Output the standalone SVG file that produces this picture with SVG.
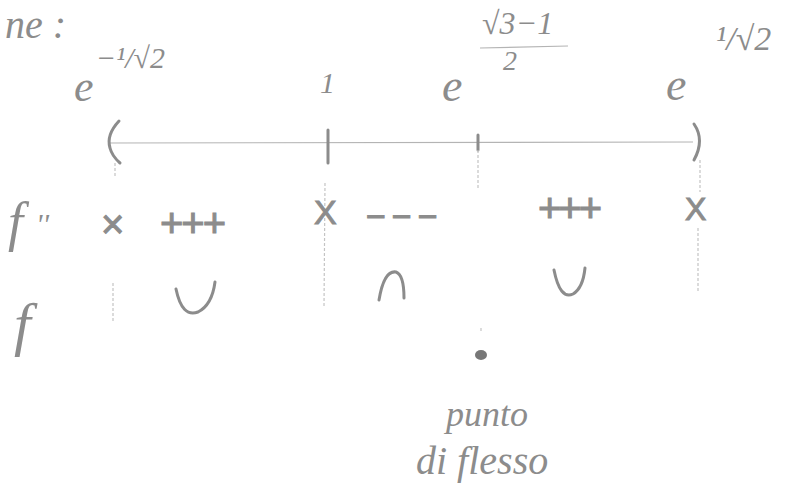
<svg xmlns="http://www.w3.org/2000/svg" width="787" height="490" viewBox="0 0 787 490">
<style>
.t{font-family:"Liberation Serif",serif;font-style:italic;fill:#8c8c8c}
.s{font-family:"Liberation Sans",sans-serif;fill:#8c8c8c;stroke:#8c8c8c;stroke-width:1}
.ln{stroke:#b4b4b4;stroke-width:1.2;fill:none}
.dl{stroke:#c4c4c4;stroke-width:1.2;fill:none;stroke-dasharray:3 2}
.pen{stroke:#8c8c8c;stroke-width:3;fill:none;stroke-linecap:round}
</style>
<rect width="787" height="490" fill="#fff"/>
<g id="title"><text class="t" x="5" y="38" font-size="40">ne :</text></g>
<g id="lbl-a">
<text class="t" x="74" y="101" font-size="44">e</text>
<text class="t" x="96" y="68" font-size="30">−¹/√2</text>
</g>
<g id="lbl-1"><text class="t" x="320" y="93" font-size="30" font-style="normal">1</text></g>
<g id="lbl-b">
<text class="t" x="442" y="101" font-size="46">e</text>
<text class="t" x="482" y="34" font-size="32">√3−1</text>
<line x1="480" y1="48" x2="568" y2="46" class="ln" stroke="#999"/>
<text class="t" x="503" y="70" font-size="28">2</text>
</g>
<g id="lbl-c">
<text class="t" x="666" y="100" font-size="46">e</text>
<text class="t" x="716" y="50" font-size="34">¹/√2</text>
</g>
<g id="axis">
<line x1="108" y1="143" x2="693" y2="142" class="ln"/>
<path d="M119 121 Q106 135 110 148 Q112 156 120 163" class="pen" stroke-width="2"/>
<path d="M694 124 Q705 140 694 160" class="pen" stroke-width="2.5"/>
<line x1="328" y1="130" x2="328" y2="163" class="pen" stroke-width="2"/>
<line x1="478" y1="135" x2="478" y2="150" class="pen" stroke-width="4"/>
</g>
<g id="connectors">
<line x1="115" y1="163" x2="115" y2="178" class="dl"/>
<line x1="113" y1="283" x2="113" y2="322" class="dl"/>
<line x1="325" y1="183" x2="324" y2="307" class="dl"/>
<line x1="478" y1="150" x2="478" y2="190" class="dl"/>
<line x1="481" y1="328" x2="481" y2="332" class="dl"/>
<line x1="700" y1="160" x2="700" y2="192" class="dl"/>
<line x1="698" y1="228" x2="698" y2="293" class="dl"/>
</g>
<g id="row-labels">
<text class="t" x="8" y="240" font-size="54">f</text>
<text class="t" x="36" y="234" font-size="30">''</text>
<text class="t" x="14" y="344" font-size="60">f</text>
</g>
<g id="row-f2">
<text class="s" x="101" y="238" font-size="40">×</text>
<text class="s" x="160" y="237" font-size="40" letter-spacing="-2">+++</text>
<text class="s" x="314" y="224" font-size="34">X</text>
<text class="s" x="366" y="228" font-size="34" letter-spacing="6">−−−</text>
<text class="s" x="538" y="222" font-size="40" letter-spacing="-3">+++</text>
<text class="s" x="685" y="220" font-size="32">X</text>
</g>
<g id="row-f">
<path d="M176 289 Q182 318 198 312 Q212 305 215 282" class="pen"/>
<path d="M379 300 Q384 270 396 272 Q404 275 404 298" class="pen"/>
<path d="M554 270 Q560 300 573 294 Q583 288 585 268" class="pen"/>
</g>
<g id="inflection">
<ellipse cx="481" cy="355" rx="6" ry="5" fill="#777"/>
<text class="t" x="446" y="426" font-size="36">punto</text>
<text class="t" x="416" y="474" font-size="40">di flesso</text>
</g>
</svg>
